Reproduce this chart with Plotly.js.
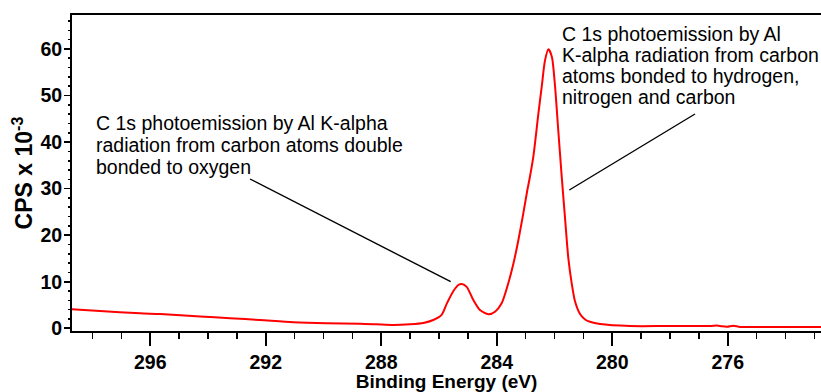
<!DOCTYPE html>
<html>
<head>
<meta charset="utf-8">
<script src="https://cdn.plot.ly/plotly-3.0.1.min.js"></script>
<style>
  html, body { margin: 0; padding: 0; background: #ffffff; overflow: hidden; }
  #chart { width: 821px; height: 392px; }
</style>
</head>
<body>
<div id="chart"></div>
<script>
// C 1s XPS spectrum: binding energy (eV) vs counts per second (x 10^-3)
const bindingEnergy = [
  298.74, 297.74, 296.35, 295.66, 294.27, 293.24, 292.20, 291.05, 289.89,
  288.73, 288.16, 287.58, 287.00, 286.54, 286.20, 285.91, 285.73, 285.50,
  285.33, 285.21, 285.04, 284.81, 284.58, 284.29, 284.06, 283.83, 283.60,
  283.42, 283.25, 283.08, 282.94, 282.87, 282.73, 282.56, 282.44, 282.33,
  282.21, 282.09, 281.98, 281.87, 281.75, 281.63, 281.52, 281.40, 281.29,
  281.11, 280.94, 280.77, 280.42, 279.38, 278.10, 276.61, 276.37, 276.20,
  276.02, 275.81, 275.57, 274.64, 272.77
];
const cps = [
  4.08, 3.72, 3.22, 3.07, 2.55, 2.17, 1.78, 1.29, 1.07,
  0.99, 0.86, 0.71, 0.86, 1.14, 1.78, 2.90, 5.30, 8.00,
  9.30, 9.52, 8.90, 6.08, 3.93, 3.00, 3.57, 5.37, 9.67,
  13.96, 18.97, 24.70, 29.70, 31.90, 37.00, 46.00, 52.00, 57.50,
  59.93, 58.30, 51.90, 42.60, 32.60, 23.30, 15.00, 9.50, 5.80,
  3.00, 1.90, 1.40, 0.92, 0.49, 0.49, 0.49, 0.62, 0.42,
  0.32, 0.55, 0.30, 0.28, 0.28
];

// Labelled (major) tick values; minor ticks every 1 eV and every 2 units
const xTickVals = [296, 292, 288, 284, 280, 276];
const yTickVals = [0, 10, 20, 30, 40, 50, 60];
const xMinorStep = 1;
const yMinorStep = 2;

const xLimits = [272.77, 298.71];
const yRange = [-0.58, 67.3];

// Peak assignments, one entry per text line
const labelCO = [
  "C 1s photoemission by Al K-alpha",
  "radiation from carbon atoms double",
  "bonded to oxygen"
];
const labelCH = [
  "C 1s photoemission by Al",
  "K-alpha radiation from carbon",
  "atoms bonded to hydrogen,",
  "nitrogen and carbon"
];

const FONT = "Liberation Sans, Arial, Helvetica, sans-serif";

// Text blocks placed in plot-area fractions so they do not widen the autorange
function textLines(lines, x, yTop, step) {
  return lines.map((t, i) => ({
    text: t, x: x, y: yTop - i * step, xref: "paper", yref: "paper",
    xanchor: "left", yanchor: "middle", showarrow: false,
    font: { family: FONT, size: 19.5, color: "#000000" }
  }));
}

const annotations = [
  ...textLines(labelCO, 0.03004, 0.6576, 0.0695),
  ...textLines(labelCH, 0.65087, 0.93924, 0.06673)
];

const leaderStyle = { color: "#000000", width: 1.4 };
const shapes = [
  { type: "line", xref: "paper", yref: "paper", x0: 0.23765, y0: 0.48101, x1: 0.50561, y1: 0.15601, line: leaderStyle },
  { type: "line", xref: "paper", yref: "paper", x0: 0.83178, y0: 0.68671, x1: 0.66395, y1: 0.44620, line: leaderStyle }
];

const spectrum = {
  x: bindingEnergy,
  y: cps,
  type: "scatter",
  mode: "lines",
  line: { color: "#ff0000", width: 2, shape: "spline", smoothing: 0.7 },
  hoverinfo: "x+y"
};

// Empty trace that keeps the overlaid minor-tick axes alive
const minorAxesHolder = {
  x: [], y: [], type: "scatter", mode: "lines",
  xaxis: "x2", yaxis: "y2", showlegend: false, hoverinfo: "skip"
};

const tickFont = { family: FONT, size: 19.5, color: "#000000", weight: "bold" };

function minorAxis(step, len, extra) {
  return Object.assign({
    showgrid: false, zeroline: false, showline: false, showticklabels: false,
    ticks: "outside", ticklen: len, tickwidth: 1.6, tickcolor: "#000000",
    tickmode: "linear", tick0: 0, dtick: step, fixedrange: true
  }, extra);
}

const layout = {
  width: 821,
  height: 392,
  margin: { l: 72, r: 0, t: 15, b: 61 },
  paper_bgcolor: "#ffffff",
  plot_bgcolor: "#ffffff",
  showlegend: false,
  font: { family: FONT, color: "#000000" },
  xaxis: {
    // binding energy decreases to the right, spanning the measured data
    autorange: "reversed",
    autorangeoptions: { clipmin: xLimits[0], clipmax: xLimits[1] },
    showgrid: false,
    zeroline: false,
    showline: true,
    linecolor: "#000000",
    linewidth: 2,
    mirror: true,
    ticks: "outside",
    ticklen: 13,
    tickwidth: 1.6,
    tickcolor: "#000000",
    tickmode: "linear",
    tick0: xTickVals[0],
    dtick: xTickVals[0] - xTickVals[1],
    tickfont: tickFont,
    title: {
      text: "Binding Energy (eV)",
      font: { family: FONT, size: 19, color: "#000000", weight: "bold" },
      standoff: 2
    }
  },
  yaxis: {
    range: yRange,
    showgrid: false,
    zeroline: false,
    showline: true,
    linecolor: "#000000",
    linewidth: 2,
    mirror: false,
    ticks: "outside",
    ticklen: 6,
    tickwidth: 1.6,
    tickcolor: "#000000",
    tickmode: "linear",
    tick0: yTickVals[0],
    dtick: yTickVals[1] - yTickVals[0],
    ticklabelstandoff: -2,
    tickfont: tickFont,
    title: {
      text: "CPS x 10<sup>-3</sup>",
      font: { family: FONT, size: 23, color: "#000000", weight: "bold" },
      standoff: 1
    }
  },
  xaxis2: minorAxis(xMinorStep, 7, { overlaying: "x", matches: "x", anchor: "y", side: "bottom" }),
  yaxis2: minorAxis(yMinorStep, 3.5, { range: yRange, overlaying: "y", anchor: "x", side: "left" }),
  annotations: annotations,
  shapes: shapes
};

Plotly.newPlot("chart", [spectrum, minorAxesHolder], layout, { displayModeBar: false, staticPlot: true });
</script>
</body>
</html>
